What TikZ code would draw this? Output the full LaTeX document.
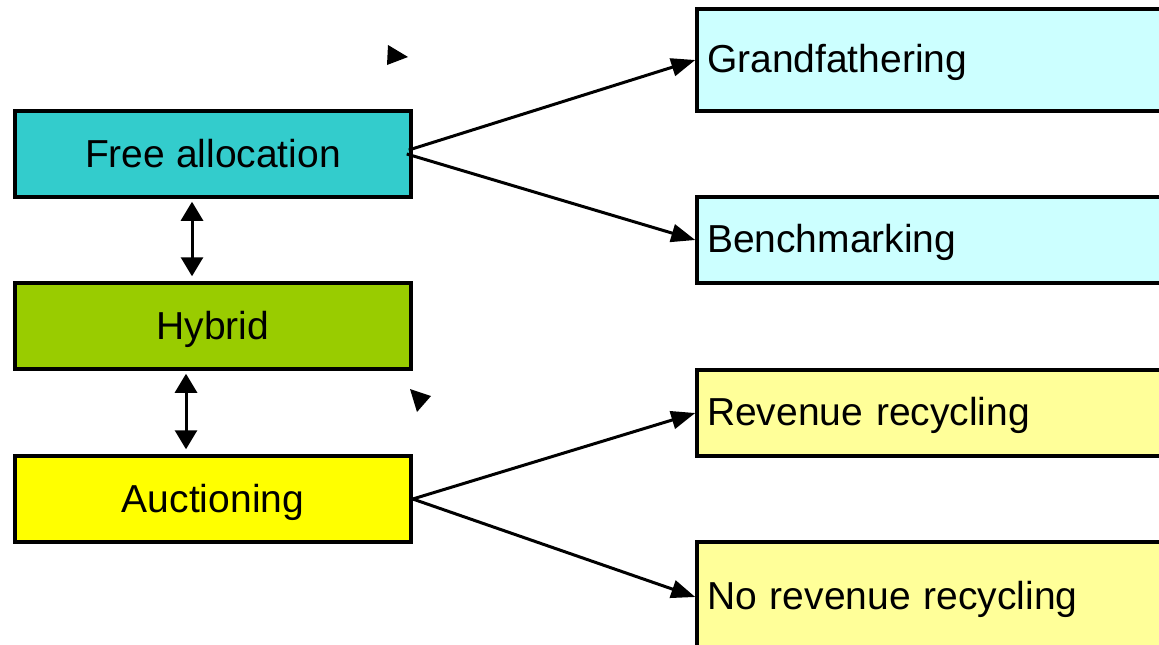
\documentclass[tikz,border=0pt]{standalone}
\usepackage{fontspec}
\setmainfont{Liberation Sans}
\usetikzlibrary{arrows.meta,positioning}
\definecolor{freeteal}{RGB}{51, 204, 204}
\definecolor{hybridgreen}{RGB}{153, 204, 0}
\definecolor{auctionyellow}{RGB}{255, 255, 0}
\definecolor{paleteal}{RGB}{204, 255, 255}
\definecolor{paleyellow}{RGB}{255, 255, 153}

\begin{document}
\begin{tikzpicture}[
    x=1pt, y=-1pt,
    method/.style={rectangle, draw=black, line width=3.5pt, minimum width=396pt, minimum height=86pt, font=\fontsize{39}{44}\selectfont, text height=35pt, text depth=9pt, inner sep=0pt},
    option/.style={rectangle, draw=black, line width=3.5pt, text width=460pt, align=left, inner xsep=10pt, inner ysep=0pt, font=\fontsize{39}{44}\selectfont, text height=33pt, text depth=9pt},
    conn/.style={-{Triangle[length=24pt,width=18pt]}, line width=3pt},
    twoway/.style={{Triangle[length=19pt,width=22pt]}-{Triangle[length=19pt,width=22pt]}, line width=3pt, shorten <=3pt, shorten >=5pt}
]
    \clip (0,0) rectangle (1159,645);
    \fill[white] (0,0) rectangle (1159,645);

    % Allocation methods
    \node[method, fill=freeteal] (free) at (213,154) {Free allocation};
    \node[method, fill=hybridgreen] (hybrid) at (213,326) {Hybrid};
    \node[method, fill=auctionyellow] (auction) at (213,499) {Auctioning};

    % Variants
    \node[option, fill=paleteal, minimum height=102pt] (grand) at (937,60) {Grandfathering};
    \node[option, fill=paleteal, minimum height=86pt] (bench) at (937,240) {Benchmarking};
    \node[option, fill=paleyellow, minimum height=86pt] (recyc) at (937,413) {Revenue recycling};
    \node[option, fill=paleyellow, minimum height=110pt] (norecyc) at (937,597) {No revenue recycling};

    % Links
    \draw[conn] ([xshift=-4pt,yshift=4pt]free.east) -- (grand.west);
    \draw[conn] ([xshift=-6pt]free.east) -- (bench.west);
    \draw[conn] (auction.east) -- (recyc.west);
    \draw[conn] (auction.east) -- (norecyc.west);

    \draw[twoway] ([xshift=-21pt]free.south) -- ([xshift=-21pt]hybrid.north);
    \draw[twoway] ([xshift=-27pt]hybrid.south) -- ([xshift=-27pt]auction.north);

    % Loose arrowheads
    \fill (388,45) -- (408,57) -- (387,65) -- cycle;
    \fill (410,389) -- (431,396) -- (417,412) -- cycle;
\end{tikzpicture}
\end{document}
